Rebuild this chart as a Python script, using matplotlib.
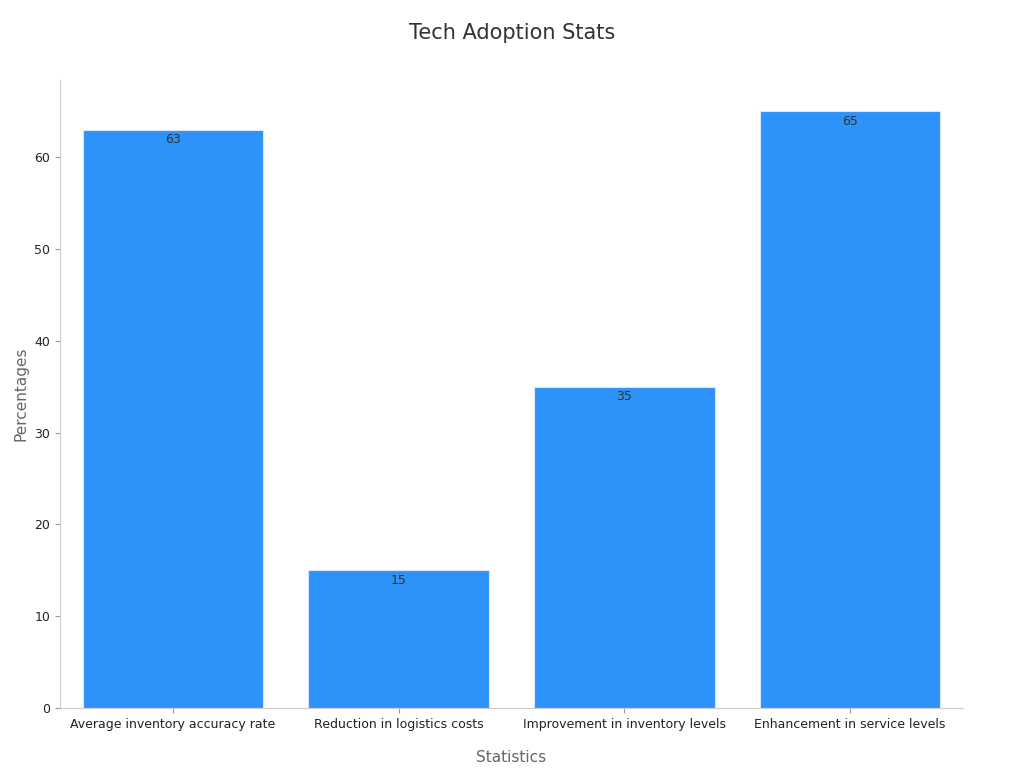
import matplotlib.pyplot as plt

categories = ["Average inventory accuracy rate", "Reduction in logistics costs",
              "Improvement in inventory levels", "Enhancement in service levels"]
values = [63, 15, 35, 65]

fig = plt.figure(figsize=(10.24, 7.68), dpi=100)
ax = fig.add_axes([60 / 1024, 1 - 708 / 768, (963 - 60) / 1024, (708 - 80) / 768])

x = range(len(categories))
bars = ax.bar(x, values, width=0.8, color="#2E93F9", edgecolor="#d8e8f8", linewidth=0.8)
for xi, v in zip(x, values):
    ax.text(xi, v - 0.4, str(v), ha="center", va="top", fontsize=9, color="#333333")

ax.set_xlim(-0.5, 3.5)
ax.set_ylim(0, 68.4)
ax.set_xticks(list(x))
ax.set_xticklabels(categories, fontsize=9, color="#222222")
ax.set_yticks(range(0, 61, 10))
ax.tick_params(axis="y", labelsize=9, colors="#222222")
ax.tick_params(color="#999999")
for s in ["top", "right"]:
    ax.spines[s].set_visible(False)
for s in ["left", "bottom"]:
    ax.spines[s].set_color("#cccccc")

ax.set_xlabel("Statistics", fontsize=11, color="#666666", labelpad=14)
ax.set_ylabel("Percentages", fontsize=11, color="#666666")
fig.text(0.5, 1 - 33 / 768, "Tech Adoption Stats", ha="center", va="center", fontsize=15, color="#333333")

fig.savefig("out.png")
